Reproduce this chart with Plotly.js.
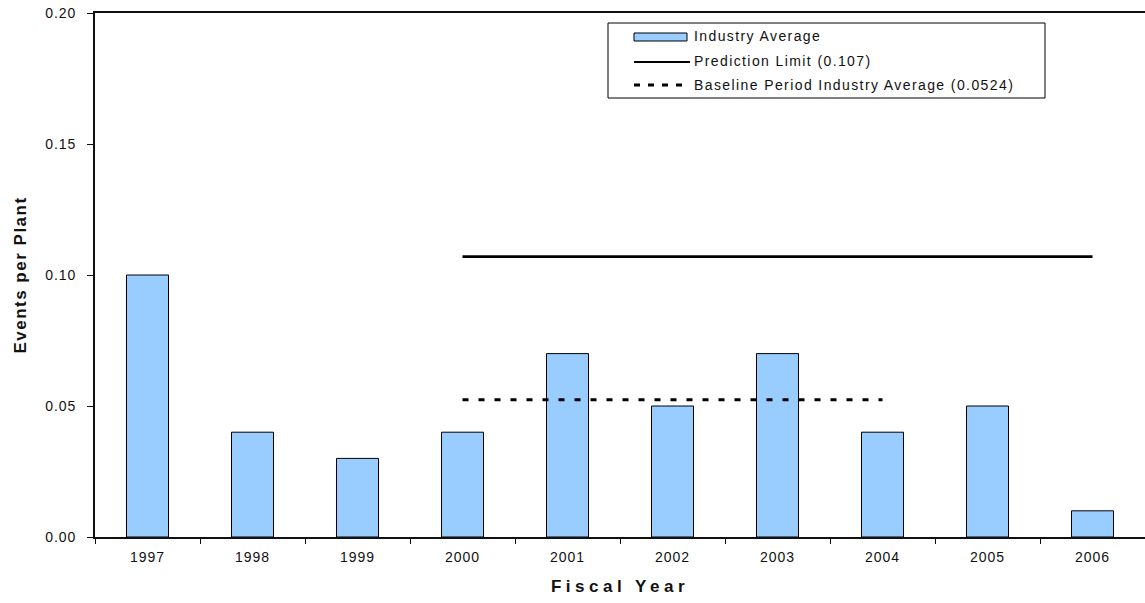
<!DOCTYPE html>
<html><head><meta charset="utf-8">
<script src="https://cdn.plot.ly/plotly-3.0.1.min.js"></script>
<style>
html,body{margin:0;padding:0;background:#fff;}
#chart{width:1145px;height:603px;}
.xtitle{letter-spacing:4.5px;}
.ytitle{letter-spacing:1.5px;}
.xtick text, .ytick text{letter-spacing:1px;}
.annotation-text{letter-spacing:1.4px;}
</style></head><body>
<div id="chart"></div>
<script>
const years = ['1997','1998','1999','2000','2001','2002','2003','2004','2005','2006'];
const industryAvg = [0.10,0.04,0.03,0.04,0.07,0.05,0.07,0.04,0.05,0.01];
const predYears = ['2000','2001','2002','2003','2004','2005','2006'];
const predLimit = [0.107,0.107,0.107,0.107,0.107,0.107,0.107];
const baseYears = ['2000','2001','2002','2003','2004'];
const baseAvg = [0.0524,0.0524,0.0524,0.0524,0.0524];
const yTicks = [0,0.05,0.10,0.15,0.20];
const legendLabels = ['Industry Average','Prediction Limit (0.107)','Baseline Period Industry Average (0.0524)'];

const L=95, R=1145, T=13, B=537;
const px = x => (x-L)/(R-L);
const py = y => (B-y)/(B-T);

const traces = [
  {type:'bar', x:years, y:industryAvg, width:0.4, marker:{color:'#99CCFF', line:{color:'#000', width:1}}, showlegend:false, hoverinfo:'x+y'},
  {type:'scatter', mode:'lines', x:predYears, y:predLimit, line:{color:'#000', width:2.8}, showlegend:false},
  {type:'scatter', mode:'lines', x:baseYears, y:baseAvg, line:{color:'#000', width:3, dash:'6px,10px'}, showlegend:false}
];

const shapes = [
  {type:'rect', xref:'paper', yref:'paper', x0:px(608), x1:px(1045), y0:py(98), y1:py(23), line:{color:'#000', width:1}, fillcolor:'#fff', layer:'above'},
  {type:'rect', xref:'paper', yref:'paper', x0:px(634), x1:px(687), y0:py(41), y1:py(33), line:{color:'#000', width:1}, fillcolor:'#99CCFF', layer:'above'},
  {type:'line', xref:'paper', yref:'paper', x0:px(634), x1:px(690), y0:py(62), y1:py(62), line:{color:'#000', width:2}, layer:'above'},
  {type:'line', xref:'paper', yref:'paper', x0:px(634), x1:px(690), y0:py(85), y1:py(85), line:{color:'#000', width:3, dash:'6px,8px'}, layer:'above'}
];
const rowsY = [36, 61, 85];
const annotations = legendLabels.map((t,i)=>({
  xref:'paper', yref:'paper', x:px(692), y:py(rowsY[i]), xanchor:'left', yanchor:'middle',
  text:t, showarrow:false, font:{family:'Liberation Sans, Arial, sans-serif', size:14, color:'#111'}
}));

const layout = {
  width:1145, height:603,
  margin:{l:L, r:1145-R, t:T, b:603-B, pad:0},
  paper_bgcolor:'#fff', plot_bgcolor:'#fff',
  font:{family:'Liberation Sans, Arial, sans-serif', size:14, color:'#111'},
  bargap:0.6,
  xaxis:{type:'category', categoryorder:'array', categoryarray:years, tickson:'boundaries',
    showline:true, linecolor:'#111', linewidth:1.8, mirror:true, ticks:'outside', ticklen:5, tickcolor:'#111',
    showgrid:false, zeroline:false, ticklabelstandoff:6,
    title:{text:'<b>Fiscal Year</b>', font:{size:17, color:'#111'}, standoff:16}},
  yaxis:{range:[0,0.2], tickvals:yTicks, tickformat:'.2f', showline:true, linecolor:'#111', linewidth:1.8, mirror:true,
    ticks:'outside', ticklen:6, tickcolor:'#111', showgrid:false, zeroline:false, ticklabelstandoff:8,
    title:{text:'<b>Events per Plant</b>', font:{size:17, color:'#111'}, standoff:14}},
  shapes:shapes, annotations:annotations, showlegend:false
};
Plotly.newPlot('chart', traces, layout, {displayModeBar:false, staticPlot:true});
</script>
</body></html>
